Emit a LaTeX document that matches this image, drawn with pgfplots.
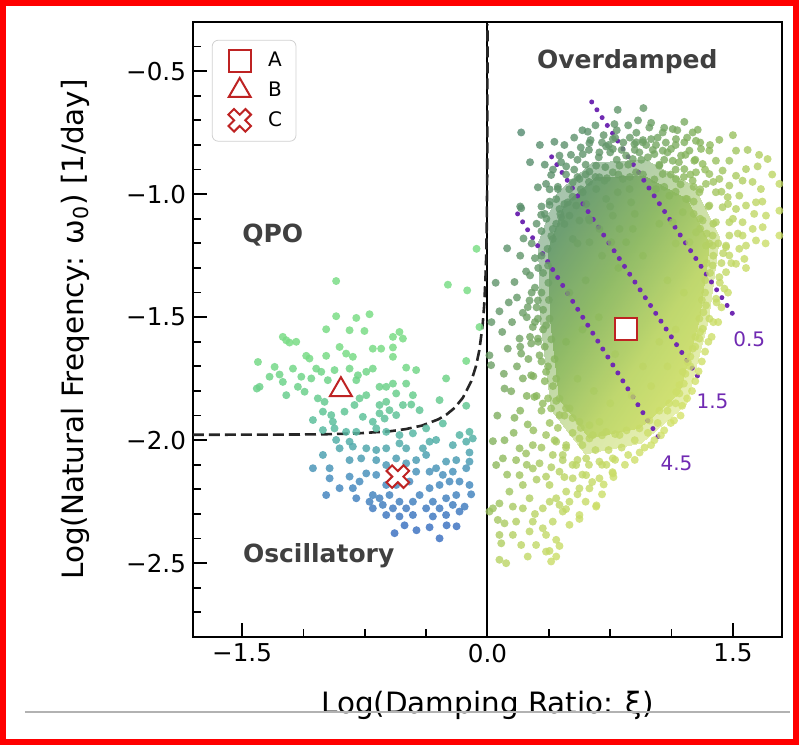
\documentclass[border=0pt]{standalone}
\usepackage{fontspec}
\setmainfont{DejaVu Sans}
\usepackage{pgfplots}
\usepackage{pgfplotstable}
\pgfplotsset{compat=1.18}
\definecolor{mred}{RGB}{190,35,35}
\definecolor{mpurple}{RGB}{112,42,178}
\definecolor{mtext}{RGB}{64,64,64}
\newcommand{\tickfont}{\fontsize{12.3}{15}\selectfont}
\newcommand{\labfont}{\fontsize{14.7}{17}\selectfont}
\pgfdeclareplotmark{fatx}{%
  \pgftransformrotate{45}%
  \pgfpathmoveto{\pgfqpoint{0.33\pgfplotmarksize}{\pgfplotmarksize}}%
  \pgfpathlineto{\pgfqpoint{0.33\pgfplotmarksize}{0.33\pgfplotmarksize}}%
  \pgfpathlineto{\pgfqpoint{\pgfplotmarksize}{0.33\pgfplotmarksize}}%
  \pgfpathlineto{\pgfqpoint{\pgfplotmarksize}{-0.33\pgfplotmarksize}}%
  \pgfpathlineto{\pgfqpoint{0.33\pgfplotmarksize}{-0.33\pgfplotmarksize}}%
  \pgfpathlineto{\pgfqpoint{0.33\pgfplotmarksize}{-\pgfplotmarksize}}%
  \pgfpathlineto{\pgfqpoint{-0.33\pgfplotmarksize}{-\pgfplotmarksize}}%
  \pgfpathlineto{\pgfqpoint{-0.33\pgfplotmarksize}{-0.33\pgfplotmarksize}}%
  \pgfpathlineto{\pgfqpoint{-\pgfplotmarksize}{-0.33\pgfplotmarksize}}%
  \pgfpathlineto{\pgfqpoint{-\pgfplotmarksize}{0.33\pgfplotmarksize}}%
  \pgfpathlineto{\pgfqpoint{-0.33\pgfplotmarksize}{0.33\pgfplotmarksize}}%
  \pgfpathlineto{\pgfqpoint{-0.33\pgfplotmarksize}{\pgfplotmarksize}}%
  \pgfpathclose
  \pgfusepathqfillstroke}

% left cluster (QPO / oscillatory)
\pgfplotstableread{
x y
-0.925 -1.353
-0.242 -1.368
-0.124 -1.391
-0.049 -1.540
-0.067 -1.222
-0.721 -1.488
-0.925 -1.496
-0.802 -1.503
-1.251 -1.580
-1.230 -1.594
-1.210 -1.603
-1.169 -1.600
-0.986 -1.549
-0.843 -1.553
-0.752 -1.556
-0.538 -1.560
-0.517 -1.587
-0.578 -1.580
-1.403 -1.682
-1.301 -1.702
-1.189 -1.709
-1.108 -1.657
-1.088 -1.668
-0.986 -1.657
-0.904 -1.621
-0.864 -1.648
-0.823 -1.661
-0.701 -1.628
-0.650 -1.628
-0.578 -1.661
-0.578 -1.623
-0.497 -1.705
-0.436 -1.715
-0.253 -1.749
-0.130 -1.678
-1.393 -1.783
-1.332 -1.742
-1.271 -1.733
-1.251 -1.763
-1.230 -1.817
-1.159 -1.783
-1.138 -1.742
-1.077 -1.749
-1.047 -1.709
-1.016 -1.722
-0.976 -1.756
-0.935 -1.715
-0.843 -1.709
-0.792 -1.736
-0.802 -1.756
-0.741 -1.722
-0.701 -1.709
-0.660 -1.783
-0.619 -1.783
-0.578 -1.770
-0.558 -1.810
-0.497 -1.770
-0.456 -1.817
-0.466 -1.855
-0.517 -1.857
-0.619 -1.844
-0.660 -1.857
-0.741 -1.817
-0.782 -1.830
-0.813 -1.857
-0.996 -1.844
-1.037 -1.830
-1.118 -1.803
-1.006 -1.884
-0.955 -1.898
-0.874 -1.884
-0.762 -1.905
-0.701 -1.925
-0.629 -1.912
-0.599 -1.878
-0.660 -1.891
-0.558 -1.898
-0.415 -1.878
-0.293 -1.837
-0.945 -1.925
-1.067 -1.918
-1.006 -1.959
-0.935 -1.952
-0.864 -1.966
-0.802 -1.966
-0.843 -2.006
-0.925 -1.999
-0.680 -1.952
-0.619 -1.966
-0.538 -1.979
-0.456 -1.972
-0.375 -1.952
-0.273 -1.932
-0.171 -1.979
-0.110 -1.966
-0.090 -1.993
-0.130 -2.006
-0.212 -2.020
-0.314 -1.999
-0.354 -2.006
-0.395 -2.033
-0.497 -2.033
-0.538 -2.013
-0.619 -2.033
-0.680 -2.040
-0.741 -2.033
-0.823 -2.026
-0.904 -2.033
-1.006 -2.060
-0.965 -2.114
-1.067 -2.114
-0.843 -2.081
-0.772 -2.074
-0.680 -2.081
-0.619 -2.101
-0.558 -2.074
-0.497 -2.094
-0.436 -2.081
-0.375 -2.060
-0.314 -2.114
-0.253 -2.087
-0.191 -2.081
-0.110 -2.087
-0.130 -2.114
-0.212 -2.128
-0.273 -2.141
-0.354 -2.128
-0.436 -2.128
-0.477 -2.168
-0.558 -2.182
-0.619 -2.182
-0.680 -2.141
-0.741 -2.135
-0.782 -2.168
-0.843 -2.148
-0.965 -2.155
-0.986 -2.223
-0.904 -2.195
-0.823 -2.195
-0.802 -2.236
-0.701 -2.223
-0.721 -2.250
-0.660 -2.236
-0.599 -2.223
-0.538 -2.250
-0.497 -2.277
-0.578 -2.277
-0.619 -2.304
-0.456 -2.250
-0.415 -2.223
-0.354 -2.195
-0.293 -2.182
-0.232 -2.168
-0.171 -2.168
-0.110 -2.182
-0.191 -2.223
-0.253 -2.236
-0.334 -2.250
-0.375 -2.277
-0.293 -2.277
-0.212 -2.263
-0.171 -2.290
-0.456 -2.304
-0.538 -2.310
-0.701 -2.277
-0.640 -2.263
-0.253 -2.304
-0.334 -2.310
-0.293 -2.399
-0.568 -2.378
-0.434 -2.366
-0.354 -2.354
-0.250 -2.346
-0.189 -2.350
-0.507 -2.346
-0.110 -2.050
-0.100 -2.220
-0.140 -2.270
-1.410 -1.790
-0.130 -1.860
}\leftdata

% right cluster (overdamped)
\pgfplotstableread{
x y
0.206 -0.749
0.796 -0.657
0.776 -0.715
0.613 -0.746
0.409 -0.787
0.623 -0.792
0.725 -0.806
0.766 -0.776
0.684 -0.830
0.582 -0.837
0.440 -0.843
0.481 -0.887
0.389 -0.922
0.308 -0.972
0.358 -0.958
0.430 -0.979
0.521 -0.952
0.623 -0.908
0.664 -0.884
0.684 -0.931
0.562 -0.938
0.491 -1.033
0.379 -1.044
0.328 -1.084
0.206 -1.057
0.440 -1.060
0.501 -1.087
0.450 -1.094
0.470 -1.121
0.399 -1.141
0.562 -1.107
0.623 -1.107
0.542 -1.046
0.603 -1.040
0.582 -0.992
0.664 -0.979
0.715 -0.945
0.766 -0.911
0.807 -0.884
0.827 -0.938
0.725 -1.019
0.796 -0.992
0.868 -0.979
0.878 -1.033
0.766 -1.087
0.684 -1.141
0.807 -1.141
0.888 -1.141
0.847 -1.195
0.756 -1.195
0.623 -1.195
0.521 -1.182
0.399 -1.182
0.766 -0.816
0.847 -0.843
0.908 -0.789
0.888 -0.857
0.908 -0.911
0.953 -0.650
1.203 -0.706
0.989 -0.729
1.071 -0.749
1.132 -0.735
1.254 -0.749
1.285 -0.738
0.898 -0.796
0.949 -0.789
1.000 -0.776
1.152 -0.776
1.203 -0.789
1.274 -0.783
1.417 -0.779
0.928 -0.830
1.071 -0.823
1.122 -0.816
1.234 -0.823
1.305 -0.816
1.356 -0.823
1.519 -0.823
1.020 -0.837
1.183 -0.843
1.132 -0.864
1.264 -0.864
1.315 -0.877
1.396 -0.864
1.478 -0.864
1.712 -0.857
1.651 -0.887
1.580 -0.898
1.050 -0.884
1.203 -0.898
1.274 -0.911
1.356 -0.918
1.437 -0.904
1.519 -0.925
1.071 -0.918
1.152 -0.938
1.254 -0.945
1.335 -0.958
1.417 -0.938
1.478 -0.965
1.559 -0.945
1.539 -1.006
1.468 -1.012
1.396 -0.992
1.295 -0.992
1.213 -1.019
1.111 -1.006
1.030 -0.979
1.356 -1.046
1.437 -1.053
1.519 -1.060
1.580 -1.046
1.641 -1.033
1.702 -1.087
1.784 -1.067
1.671 -0.979
1.621 -1.141
1.682 -1.134
1.559 -1.114
1.478 -1.114
1.396 -1.114
1.315 -1.107
1.274 -1.155
1.376 -1.168
1.478 -1.168
1.559 -1.168
1.641 -1.188
1.193 -1.073
1.132 -1.114
1.234 -1.195
1.784 -0.958
1.335 -1.209
1.458 -1.209
1.580 -1.209
1.784 -1.168
0.236 -1.314
0.165 -1.357
0.073 -1.476
0.216 -1.482
0.257 -1.432
0.308 -1.432
0.246 -1.459
0.124 -1.628
0.206 -1.648
0.267 -1.607
0.196 -1.587
0.308 -1.506
0.277 -1.540
0.308 -1.587
0.216 -1.749
0.104 -1.790
0.145 -1.801
0.267 -1.736
0.358 -1.722
0.012 -1.655
0.022 -1.695
0.318 -1.655
0.358 -1.533
0.200 -1.050
0.024 -1.520
1.377 -1.209
1.458 -1.215
1.539 -1.222
1.570 -1.263
1.519 -1.283
1.458 -1.317
1.417 -1.337
1.377 -1.290
1.478 -1.249
1.448 -1.384
1.397 -1.425
1.356 -1.506
1.336 -1.452
1.315 -1.547
1.295 -1.587
1.254 -1.628
1.224 -1.682
1.193 -1.722
1.173 -1.776
1.153 -1.804
0.165 -1.909
0.246 -1.936
0.287 -1.824
0.338 -1.851
0.389 -1.871
0.440 -1.898
0.501 -1.871
0.562 -1.925
0.623 -1.939
0.684 -1.925
0.033 -2.004
0.104 -2.000
0.196 -2.033
0.277 -2.020
0.358 -1.979
0.420 -2.006
0.481 -2.020
0.562 -1.993
0.644 -1.979
0.725 -1.966
0.807 -1.979
0.094 -2.074
0.175 -2.081
0.236 -2.054
0.318 -2.094
0.399 -2.060
0.460 -2.081
0.542 -2.101
0.603 -2.074
0.684 -2.087
0.766 -2.074
0.053 -2.101
0.196 -2.142
0.277 -2.115
0.358 -2.148
0.440 -2.128
0.521 -2.155
0.603 -2.142
0.684 -2.155
0.766 -2.135
0.134 -2.209
0.216 -2.182
0.257 -2.236
0.379 -2.182
0.420 -2.236
0.481 -2.209
0.562 -2.196
0.623 -2.196
0.664 -2.270
0.033 -2.277
0.073 -2.257
0.155 -2.270
0.216 -2.277
0.338 -2.277
0.440 -2.263
0.501 -2.250
0.562 -2.304
0.063 -2.324
0.104 -2.338
0.175 -2.331
0.277 -2.331
0.338 -2.358
0.399 -2.331
0.460 -2.290
0.501 -2.344
0.073 -2.385
0.155 -2.385
0.257 -2.371
0.358 -2.385
0.420 -2.405
0.206 -2.426
0.297 -2.426
0.358 -2.453
0.084 -2.419
0.073 -2.486
0.114 -2.500
0.246 -2.473
0.389 -2.493
0.420 -2.473
0.012 -2.290
0.727 -2.100
0.666 -2.265
0.764 -2.130
0.562 -2.320
0.440 -2.430
0.379 -2.450
0.330 -1.150
0.360 -1.100
0.420 -1.020
0.500 -0.980
0.550 -0.930
0.600 -0.880
0.680 -0.850
0.750 -0.830
0.820 -0.820
0.900 -0.820
0.980 -0.850
1.050 -0.880
1.120 -0.920
1.180 -0.960
1.260 -1.030
1.300 -1.100
1.340 -1.160
1.380 -1.250
1.360 -1.320
1.330 -1.400
1.320 -1.480
1.300 -1.560
1.270 -1.620
1.240 -1.700
1.200 -1.770
1.150 -1.850
1.100 -1.880
1.040 -1.930
0.980 -1.970
0.900 -2.000
0.820 -2.030
0.740 -2.040
0.660 -2.040
0.580 -2.020
0.520 -1.970
0.470 -1.900
0.420 -1.840
0.400 -1.780
0.370 -1.700
0.350 -1.620
0.340 -1.550
0.340 -1.470
0.330 -1.400
0.340 -1.320
0.330 -1.250
0.310 -1.300
0.290 -1.380
0.300 -1.460
0.290 -1.520
0.310 -1.600
0.330 -1.680
0.350 -1.760
0.370 -1.830
0.430 -1.950
0.480 -2.030
0.550 -2.080
0.620 -2.100
0.700 -2.100
0.780 -2.080
0.860 -2.060
0.930 -2.050
1.000 -2.020
1.060 -1.980
1.120 -1.930
1.180 -1.900
1.220 -1.830
1.270 -1.760
1.310 -1.680
1.350 -1.600
1.380 -1.520
1.400 -1.440
1.420 -1.360
1.430 -1.280
1.410 -1.200
1.380 -1.120
1.350 -1.050
1.300 -0.980
1.240 -0.920
1.170 -0.870
1.100 -0.830
1.030 -0.800
0.950 -0.780
0.870 -0.770
0.780 -0.770
0.700 -0.790
0.620 -0.820
0.550 -0.860
0.480 -0.920
0.430 -0.970
0.380 -1.030
0.350 -1.080
0.47 -0.80
0.53 -0.77
0.58 -0.74
0.66 -0.72
0.71 -0.76
0.79 -0.74
0.86 -0.72
0.92 -0.70
1.00 -0.71
1.08 -0.73
1.16 -0.74
1.22 -0.77
1.30 -0.79
1.36 -0.80
0.51 -0.84
0.57 -0.81
0.63 -0.78
0.74 -0.80
0.83 -0.79
0.91 -0.75
0.97 -0.80
1.04 -0.77
1.09 -0.79
1.15 -0.80
1.21 -0.84
1.27 -0.86
1.33 -0.90
1.38 -0.95
0.45 -0.87
0.53 -0.90
0.60 -0.92
0.72 -0.89
0.79 -0.86
0.86 -0.88
0.94 -0.86
1.01 -0.82
1.08 -0.86
1.15 -0.90
1.20 -0.93
1.26 -0.97
1.43 -0.99
1.47 -1.04
1.50 -1.10
1.53 -1.16
1.49 -1.28
1.44 -1.24
1.47 -1.40
1.43 -1.46
1.41 -1.52
1.37 -1.58
1.33 -1.64
1.29 -1.72
1.25 -1.80
1.19 -1.86
1.14 -1.92
1.08 -1.96
1.02 -2.00
0.96 -2.03
0.90 -2.08
0.84 -2.10
0.77 -2.15
0.71 -2.18
0.64 -2.17
0.58 -2.14
0.52 -2.10
0.46 -2.06
0.41 -2.00
0.38 -1.93
0.33 -1.88
0.30 -1.82
0.28 -1.74
0.25 -1.67
0.26 -1.58
0.24 -1.50
0.27 -1.40
0.26 -1.33
0.29 -1.26
0.27 -1.20
0.30 -1.12
0.33 -1.05
0.38 -0.98
0.40 -0.90
0.22 -1.18
0.20 -1.25
0.18 -1.42
0.15 -1.52
0.20 -1.62
0.18 -1.70
0.24 -1.82
0.20 -1.88
0.28 -1.96
0.33 -2.03
0.24 -2.10
0.30 -2.16
0.39 -2.11
0.47 -2.15
0.55 -2.22
0.48 -2.28
0.38 -2.25
0.29 -2.30
0.60 -2.25
0.70 -2.22
0.12 -2.14
0.16 -1.97
0.06 -1.90
0.10 -1.73
0.09 -1.56
0.13 -1.44
0.05 -1.36
0.12 -1.22
0.26 -0.87
0.32 -0.80
0.35 -0.88
1.62 -0.95
1.68 -1.03
1.74 -0.92
1.58 -1.30
1.63 -1.08
1.70 -1.20
1.50 -0.76
1.59 -0.82
1.66 -0.84
0.66 -0.93
0.73 -0.935
0.80 -0.92
0.87 -0.93
0.95 -0.92
1.02 -0.94
1.08 -0.97
1.15 -0.99
1.22 -1.02
1.26 -1.08
1.30 -1.14
1.356 -1.20
1.34 -1.28
1.33 -1.35
1.31 -1.43
1.295 -1.506
1.27 -1.58
1.24 -1.66
1.21 -1.73
1.173 -1.81
1.11 -1.85
1.05 -1.88
0.99 -1.92
0.929 -1.952
0.85 -1.96
0.78 -1.975
0.70 -1.98
0.623 -1.993
0.57 -1.95
0.52 -1.91
0.48 -1.87
0.44 -1.831
0.42 -1.75
0.41 -1.67
0.39 -1.59
0.379 -1.506
0.375 -1.43
0.372 -1.36
0.37 -1.29
0.367 -1.222
0.39 -1.17
0.42 -1.12
0.445 -1.08
0.47 -1.04
0.52 -1.01
0.57 -0.98
0.62 -0.95
0.55 -1.20
0.62 -1.10
0.75 -1.05
0.90 -1.08
1.05 -1.12
1.15 -1.20
0.50 -1.40
0.60 -1.35
0.70 -1.25
0.80 -1.30
0.95 -1.25
1.10 -1.35
1.20 -1.40
0.48 -1.60
0.58 -1.55
0.68 -1.50
0.78 -1.65
0.95 -1.70
1.05 -1.60
1.15 -1.55
0.55 -1.75
0.65 -1.80
0.75 -1.85
0.88 -1.82
1.00 -1.78
1.10 -1.70
}\rightdata

% dense core of the overdamped cloud (triangle fan)
\pgfplotstableread{
x y
0.85 -1.45
0.66 -0.93
0.95 -0.92
0.85 -1.45
0.95 -0.92
1.22 -1.02
0.85 -1.45
1.22 -1.02
1.356 -1.202
0.85 -1.45
1.356 -1.202
1.295 -1.506
0.85 -1.45
1.295 -1.506
1.173 -1.810
0.85 -1.45
1.173 -1.810
0.929 -1.952
0.85 -1.45
0.929 -1.952
0.623 -1.993
0.85 -1.45
0.623 -1.993
0.440 -1.831
0.85 -1.45
0.440 -1.831
0.379 -1.506
0.85 -1.45
0.379 -1.506
0.367 -1.222
0.85 -1.45
0.367 -1.222
0.470 -1.040
0.85 -1.45
0.470 -1.040
0.66 -0.93
}\coredata

% halo around the core (medium density)
\pgfplotstableread{
x y
0.85 -1.45
0.637 -0.868
0.962 -0.856
0.85 -1.45
0.962 -0.856
1.264 -0.968
0.85 -1.45
1.264 -0.968
1.417 -1.172
0.85 -1.45
1.417 -1.172
1.348 -1.513
0.85 -1.45
1.348 -1.513
1.212 -1.853
0.85 -1.45
1.212 -1.853
0.938 -2.012
0.85 -1.45
0.938 -2.012
0.596 -2.058
0.85 -1.45
0.596 -2.058
0.391 -1.877
0.85 -1.45
0.391 -1.877
0.322 -1.513
0.85 -1.45
0.322 -1.513
0.309 -1.195
0.85 -1.45
0.309 -1.195
0.424 -0.991
0.85 -1.45
0.424 -0.991
0.637 -0.868
}\halodata

% critical damping boundary (dashed)
\pgfplotstableread{
x y
-1.8 -1.978
-1.2 -1.977
-1.0 -1.976
-0.8 -1.9725
-0.6 -1.964
-0.5 -1.955
-0.4 -1.9405
-0.3 -1.915
-0.25 -1.8955
-0.2 -1.868
-0.15 -1.827
-0.1 -1.7615
-0.07 -1.698
-0.05 -1.6346
-0.03 -1.533
-0.02 -1.450
-0.01 -1.3046
-0.005 -1.1565
-0.002 -0.959
-0.001 -0.809
-0.0005 -0.659
-0.0002 -0.460
-0.0001 -0.310
}\curvedata

\begin{document}
\begin{tikzpicture}
\begin{axis}[
  scale only axis, width=294.5pt, height=307.5pt,
  xmin=-1.8, xmax=1.8, ymin=-2.8, ymax=-0.3,
  xtick={-1.5,0,1.5}, xticklabels={−1.5,0.0,1.5},
  ytick={-2.5,-2,-1.5,-1,-0.5}, yticklabels={−2.5,−2.0,−1.5,−1.0,−0.5},
  minor xtick={-1.125,-0.75,-0.375,0.375,0.75,1.125},
  minor ytick={-2.7,-2.6,-2.4,-2.3,-2.2,-2.1,-1.9,-1.8,-1.7,-1.6,-1.4,-1.3,-1.2,-1.1,-0.9,-0.8,-0.7,-0.6,-0.4},
  tick align=inside, tick pos=left,
  major tick length=7pt, minor tick length=4pt,
  tick style={black, line width=0.9pt},
  axis line style={line width=1.2pt},
  ticklabel style={font=\tickfont},
  xlabel={Log(Damping Ratio: ξ)},
  ylabel={Log(Natural Freqency: ω\textsubscript{0}) [1/day]},
  label style={font=\labfont},
  xlabel style={at={(axis description cs:0.5,-0.111)}, anchor=center},
  ylabel style={at={(axis description cs:-0.200,0.5)}, anchor=center},
  colormap={dho}{rgb255(0cm)=(74,130,112); rgb255(0.9cm)=(82,136,112); rgb255(1.6cm)=(100,152,104); rgb255(2.1cm)=(136,182,92); rgb255(2.6cm)=(186,212,100); rgb255(3.2cm)=(218,230,108); rgb255(3.6cm)=(222,234,112); rgb255(7cm)=(58,100,188); rgb255(7.65cm)=(64,116,194); rgb255(7.85cm)=(74,144,190); rgb255(7.95cm)=(80,164,176); rgb255(8.05cm)=(90,188,160); rgb255(8.2cm)=(108,208,140); rgb255(8.35cm)=(122,220,134); rgb255(10cm)=(128,226,138)},
  point meta min=0, point meta max=10,
  legend style={at={(axis description cs:0.032,0.971)}, anchor=north west, draw=black!18, rounded corners=3pt, font=\fontsize{10}{12}\selectfont, row sep=2pt, inner xsep=5pt, inner ysep=4pt},
  legend cell align=left,
  legend image code/.code={\path (0cm,0cm) (0.72cm,0cm); \draw[mark repeat=2,mark phase=2,#1] plot coordinates {(0cm,0cm) (0.3cm,0cm) (0.6cm,0cm)};},
]
% medium-density halo and dense core
\addplot[patch, shader=interp, forget plot, opacity=0.55, point meta={\thisrow{x}-\thisrow{y}}] table {\halodata};
\addplot[patch, shader=interp, forget plot, opacity=0.85, point meta={\thisrow{x}-\thisrow{y}}] table {\coredata};
% scatter clouds
\addplot[scatter, only marks, mark=*, mark size=2pt, forget plot, fill opacity=0.8, draw opacity=0,
  point meta={\thisrow{x}-\thisrow{y}}] table {\rightdata};
\addplot[scatter, only marks, mark=*, mark size=2pt, forget plot, fill opacity=0.85, draw opacity=0,
  point meta={10+\thisrow{y}}] table {\leftdata};
% boundaries
\addplot[forget plot, black, line width=1pt] coordinates {(0,-2.8) (0,-0.3)};
\addplot[forget plot, black!85, line width=1.3pt, dash pattern=on 5.5pt off 2.5pt] table {\curvedata};
% constant-timescale lines
\addplot[forget plot, mpurple, line width=2.5pt, line cap=round, dash pattern=on 0pt off 4.7pt] coordinates {(0.637,-0.625) (1.513,-1.501)};
\addplot[forget plot, mpurple, line width=2.5pt, line cap=round, dash pattern=on 0pt off 4.7pt] coordinates {(0.392,-0.848) (1.310,-1.766)};
\addplot[forget plot, mpurple, line width=2.5pt, line cap=round, dash pattern=on 0pt off 4.7pt] coordinates {(0.184,-1.080) (1.072,-2.017)};
% example objects
\addplot[only marks, mark=square*, mark size=5.5pt, mark options={draw=mred, fill=white, line width=1pt}] coordinates {(0.849,-1.547)};
\addlegendentry{A}
\addplot[only marks, mark=triangle*, mark size=6.3pt, mark options={draw=mred, fill=white, line width=1pt}] coordinates {(-0.896,-1.795)};
\addlegendentry{B}
\addplot[only marks, mark=fatx, mark size=6pt, mark options={draw=mred, fill=white, line width=1pt}] coordinates {(-0.548,-2.148)};
\addlegendentry{C}
% annotations
\node[font=\fontsize{12.5}{15}\selectfont\bfseries, text=mtext] at (axis cs:0.855,-0.463) {Overdamped};
\node[font=\fontsize{12.5}{15}\selectfont\bfseries, text=mtext] at (axis cs:-1.313,-1.165) {QPO};
\node[font=\fontsize{12.5}{15}\selectfont\bfseries, text=mtext] at (axis cs:-1.032,-2.468) {Oscillatory};
\node[font=\fontsize{10}{12}\selectfont, text=mpurple] at (axis cs:1.600,-1.591) {0.5};
\node[font=\fontsize{10}{12}\selectfont, text=mpurple] at (axis cs:1.375,-1.843) {1.5};
\node[font=\fontsize{10}{12}\selectfont, text=mpurple] at (axis cs:1.155,-2.094) {4.5};
\end{axis}
\draw[black!30, line width=0.6pt] (-84pt,-37.5pt) -- (298.5pt,-37.5pt);
\draw[red, line width=3pt] (-95pt,-52.5pt) rectangle (301.5pt,317pt);
\useasboundingbox (-96.5pt,-54pt) rectangle (303pt,318.5pt);
\end{tikzpicture}
\end{document}
